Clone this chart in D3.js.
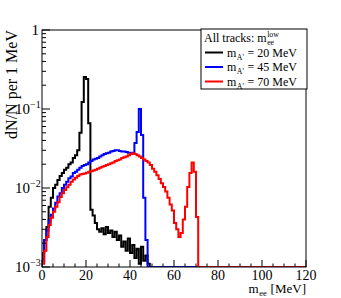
<!DOCTYPE html>
<html>
<head>
<meta charset="utf-8">
<script src="https://cdn.jsdelivr.net/npm/d3@7"></script>
<style>
  body { margin: 0; background: #fff; }
  svg { font-family: "Liberation Serif", "DejaVu Serif", serif; }
</style>
</head>
<body>
<div id="chart"></div>
<script>
// 1 MeV bins starting at 0 MeV (0 = empty bin)
const binWidth = 1;
const xTicks = [0, 20, 40, 60, 80, 100, 120];

const black20 = [
  0.0015, 0.0022, 0.0032, 0.0058, 0.0075, 0.010, 0.011, 0.0126, 0.0142, 0.0155,
  0.017, 0.018, 0.020, 0.021, 0.024, 0.026, 0.030, 0.050, 0.123, 0.254,
  0.240, 0.066, 0.0053, 0.0045, 0.0036, 0.0030, 0.0028, 0.0031, 0.0026, 0.0032,
  0.0027, 0.0029, 0.0024, 0.0028, 0.0022, 0.0025, 0.0018, 0.0021, 0.0016, 0.0023,
  0.0015, 0.0019, 0.0013, 0.0017, 0.0011, 0.0018, 0.0012, 0.0014, 0.0011, 0.0010
];

const blue45 = [
  0.0012, 0.0022, 0.0029, 0.0039, 0.0046, 0.0055, 0.0065, 0.0078, 0.0086, 0.010,
  0.011, 0.012, 0.0133, 0.014, 0.0155, 0.016, 0.017, 0.018, 0.019, 0.0195,
  0.020, 0.021, 0.022, 0.023, 0.0235, 0.024, 0.025, 0.026, 0.027, 0.0275,
  0.028, 0.029, 0.0295, 0.030, 0.030, 0.0295, 0.029, 0.029, 0.0285, 0.028,
  0.027, 0.028, 0.037, 0.051, 0.100, 0.047, 0.0075, 0.0022
];

const red70 = [
  0.0011, 0.0016, 0.0024, 0.0034, 0.0042, 0.0050, 0.0058, 0.0066, 0.0077, 0.0086,
  0.0094, 0.0102, 0.011, 0.012, 0.0128, 0.0135, 0.0142, 0.0148, 0.0150, 0.0153,
  0.0156, 0.0160, 0.0163, 0.0167, 0.0170, 0.0175, 0.0180, 0.0186, 0.0190, 0.0195,
  0.0200, 0.0205, 0.0210, 0.0220, 0.0225, 0.0230, 0.0240, 0.0245, 0.0250, 0.0260,
  0.0270, 0.0275, 0.0270, 0.0260, 0.0250, 0.0240, 0.0230, 0.0220, 0.0210, 0.0195,
  0.0175, 0.0160, 0.0145, 0.0130, 0.0115, 0.0103, 0.0090, 0.0075, 0.0062, 0.0052,
  0.0036, 0.0030, 0.0024, 0.0027, 0.0040, 0.0058, 0.0103, 0.0155, 0.0210, 0.0160,
  0.0043
];

const series = [
  { name: "20", values: black20, color: "#000000" },
  { name: "45", values: blue45, color: "#0000ff" },
  { name: "70", values: red70, color: "#ff0000" }
];

const width = 341, height = 298;
const margin = { top: 30, right: 35, bottom: 31, left: 42 };

const svg = d3.select("#chart").append("svg")
  .attr("width", width)
  .attr("height", height);

const x = d3.scaleLinear().domain([0, 120]).range([margin.left, width - margin.right]);
const y = d3.scaleLog().domain([1e-3, 1]).range([height - margin.bottom, margin.top]);

svg.append("clipPath").attr("id", "frame")
  .append("rect")
  .attr("x", margin.left).attr("y", margin.top)
  .attr("width", x(120) - x(0)).attr("height", y(1e-3) - y(1));

// histogram outline, empty bins sit on the lower frame edge
const yb = v => v > 1e-3 ? y(v) : y(1e-3);
const histPath = vals => {
  const full = d3.range(120).map(i => i < vals.length ? vals[i] : 0);
  let d = "M" + x(0) + "," + y(1e-3);
  full.forEach((v, i) => {
    d += "L" + x(i * binWidth) + "," + yb(v) + "L" + x((i + 1) * binWidth) + "," + yb(v);
  });
  return d;
};

const plot = svg.append("g").attr("clip-path", "url(#frame)");
series.forEach(s => {
  plot.append("path")
    .attr("d", histPath(s.values))
    .attr("fill", "none")
    .attr("stroke", s.color)
    .attr("stroke-width", 2)
    .attr("stroke-linejoin", "miter");
});

// frame
svg.append("rect")
  .attr("x", x(0)).attr("y", y(1))
  .attr("width", x(120) - x(0)).attr("height", y(1e-3) - y(1))
  .attr("fill", "none").attr("stroke", "#000").attr("stroke-width", 1);

// x ticks (inside)
const axisG = svg.append("g").attr("stroke", "#000").attr("stroke-width", 1);
d3.range(0, 121, 5).forEach(v => {
  const len = v % 20 === 0 ? 7 : 3.5;
  axisG.append("line")
    .attr("x1", x(v)).attr("x2", x(v))
    .attr("y1", y(1e-3)).attr("y2", y(1e-3) - len);
});
// y ticks (inside)
[1e-3, 1e-2, 1e-1].forEach(dec => {
  d3.range(1, 10).forEach(m => {
    const v = dec * m;
    const len = m === 1 ? 8 : 4;
    axisG.append("line")
      .attr("x1", x(0)).attr("x2", x(0) + len)
      .attr("y1", y(v)).attr("y2", y(v));
  });
});
axisG.append("line")
  .attr("x1", x(0)).attr("x2", x(0) + 8)
  .attr("y1", y(1)).attr("y2", y(1));

// tick labels
svg.append("g").selectAll("text").data(xTicks).join("text")
  .attr("x", d => x(d)).attr("y", y(1e-3) + 13)
  .attr("text-anchor", "middle")
  .attr("font-size", 14)
  .text(d => d);

const yLab = svg.append("g").attr("font-size", 15);
yLab.append("text").attr("x", x(0) - 3).attr("y", y(1) + 5)
  .attr("text-anchor", "end").text("1");
[-1, -2, -3].forEach(p => {
  const yy = y(Math.pow(10, p)) + 5;
  yLab.append("text").attr("x", x(0) - 12).attr("y", yy)
    .attr("text-anchor", "end").text("10");
  yLab.append("text").attr("x", x(0) - 12).attr("y", yy - 6)
    .attr("font-size", 10).text("\u2212" + Math.abs(p));
});

// small helper: base text followed by sub/superscript, placed by measured width
function sym(g, x0, y0, size, base, sub, sup, rest) {
  const b = g.append("text").attr("x", x0).attr("y", y0).attr("font-size", size).text(base);
  const bx = x0 + b.node().getComputedTextLength() + 0.5;
  let w = 0;
  if (sub) {
    const s = g.append("text").attr("x", bx).attr("y", y0 + size * 0.25)
      .attr("font-size", size * 0.65).text(sub);
    w = Math.max(w, s.node().getComputedTextLength());
  }
  if (sup) {
    const s = g.append("text").attr("x", bx).attr("y", y0 - size * 0.45)
      .attr("font-size", size * 0.65).text(sup);
    w = Math.max(w, s.node().getComputedTextLength());
  }
  let end = bx + w;
  if (rest) {
    const r = g.append("text").attr("x", bx + w + size * 0.3).attr("y", y0)
      .attr("font-size", size).text(rest);
    end = bx + w + size * 0.3 + r.node().getComputedTextLength();
  }
  return end - x0;
}

// axis titles, right aligned to the frame
const xTitle = svg.append("g");
const tw = sym(xTitle, 0, y(1e-3) + 26, 13, "m", "ee", null, "[MeV]");
xTitle.attr("transform", "translate(" + (x(120) - tw) + ",0)");

svg.append("text")
  .attr("transform", "translate(17," + y(1) + ") rotate(-90)")
  .attr("text-anchor", "end").attr("font-size", 16)
  .text("dN/N per 1 MeV");

// legend
const lg = svg.append("g").attr("transform", "translate(201,29)");
lg.append("rect").attr("width", 106).attr("height", 60)
  .attr("fill", "#fff").attr("stroke", "#000").attr("stroke-width", 1);
sym(lg, 3, 13, 12, "All tracks: m", "ee", "low", null);

series.forEach((s, i) => {
  const yy = 23.5 + i * 14.5;
  lg.append("line").attr("x1", 4).attr("x2", 22).attr("y1", yy).attr("y2", yy)
    .attr("stroke", s.color).attr("stroke-width", 2);
  sym(lg, 26, yy + 4, 12, "m", "A'", null, "= " + s.name + " MeV");
});
</script>
</body>
</html>
